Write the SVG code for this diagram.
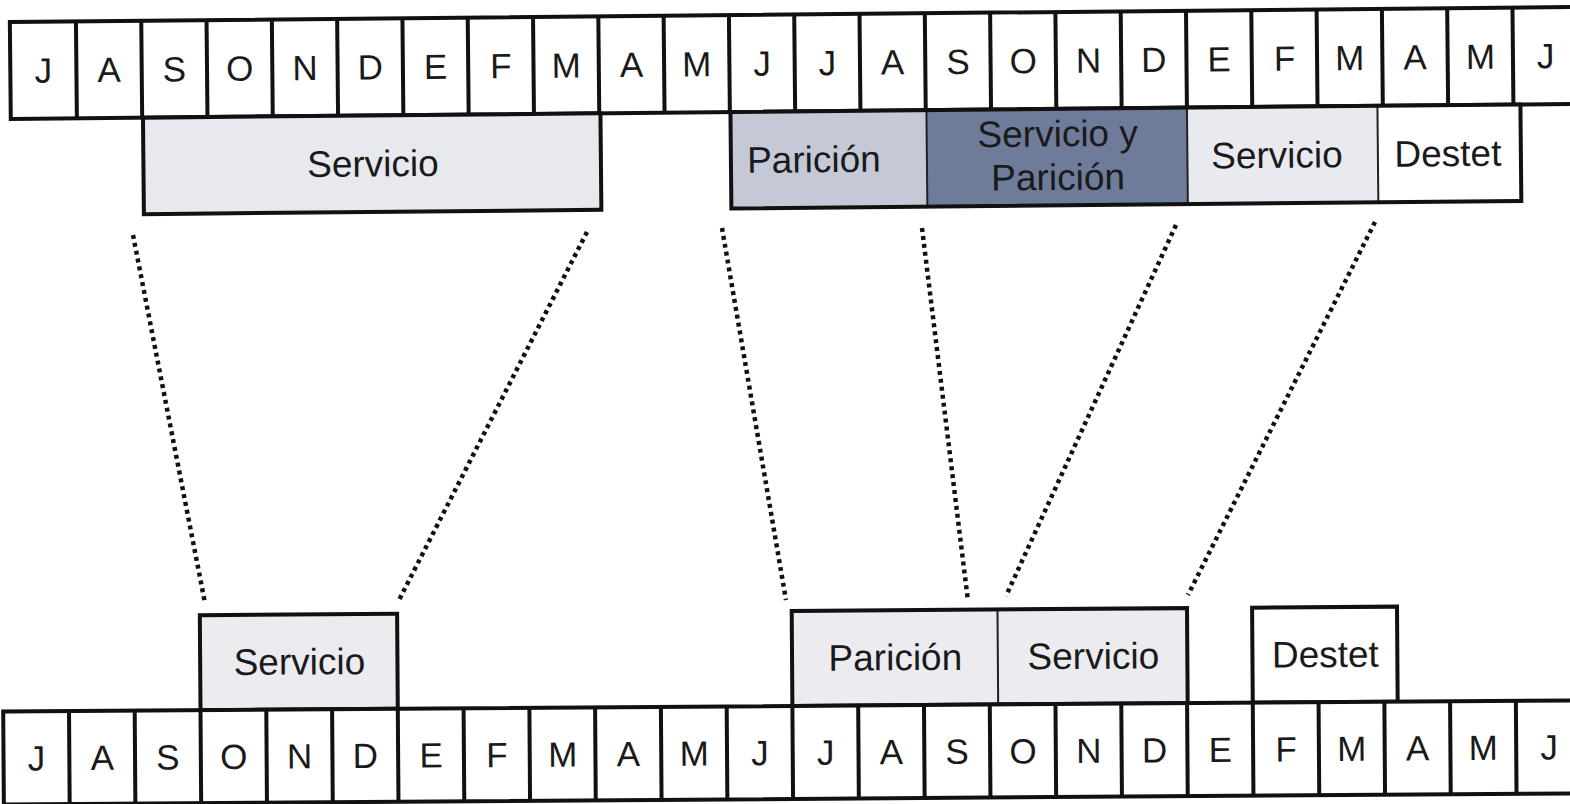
<svg xmlns="http://www.w3.org/2000/svg" width="1570" height="804" viewBox="0 0 1570 804">
<style>
.m{font-family:"Liberation Sans",Arial,sans-serif;font-size:35px;fill:#1a1a1a;text-anchor:middle}
.l{font-family:"Liberation Sans",Arial,sans-serif;font-size:37px;fill:#1a1a1a;text-anchor:middle}
.o{stroke:#111;stroke-width:4}
.t{fill:none;stroke:#222;stroke-width:2}
.dot{fill:none;stroke:#111;stroke-width:4.5;stroke-dasharray:4 4}
</style>
<rect width="1570" height="804" fill="#fff"/>
<g id="top" transform="rotate(-0.55 785 65)">
  <g id="top-months">
    <rect x="10.3" y="14.6" width="1580" height="96.9" fill="#fff" class="o"/>
    <path class="o" fill="none" d="M76.4 14.6V111.5M141.7 14.6V111.5M207 14.6V111.5M272.3 14.6V111.5M337.6 14.6V111.5M402.9 14.6V111.5M468.2 14.6V111.5M533.5 14.6V111.5M598.8 14.6V111.5M664.1 14.6V111.5M729.4 14.6V111.5M794.7 14.6V111.5M860 14.6V111.5M925.3 14.6V111.5M990.6 14.6V111.5M1055.9 14.6V111.5M1121.2 14.6V111.5M1186.5 14.6V111.5M1251.8 14.6V111.5M1317.1 14.6V111.5M1382.4 14.6V111.5M1447.7 14.6V111.5M1513 14.6V111.5"/>
    <text class="m" x="43.4" y="75.5">J</text>
    <text class="m" x="109.1" y="75.5">A</text>
    <text class="m" x="174.4" y="75.5">S</text>
    <text class="m" x="239.7" y="75.5">O</text>
    <text class="m" x="305" y="75.5">N</text>
    <text class="m" x="370.3" y="75.5">D</text>
    <text class="m" x="435.6" y="75.5">E</text>
    <text class="m" x="500.9" y="75.5">F</text>
    <text class="m" x="566.2" y="75.5">M</text>
    <text class="m" x="631.5" y="75.5">A</text>
    <text class="m" x="696.8" y="75.5">M</text>
    <text class="m" x="762.1" y="75.5">J</text>
    <text class="m" x="827.4" y="75.5">J</text>
    <text class="m" x="892.7" y="75.5">A</text>
    <text class="m" x="958" y="75.5">S</text>
    <text class="m" x="1023.3" y="75.5">O</text>
    <text class="m" x="1088.6" y="75.5">N</text>
    <text class="m" x="1153.9" y="75.5">D</text>
    <text class="m" x="1219.2" y="75.5">E</text>
    <text class="m" x="1284.5" y="75.5">F</text>
    <text class="m" x="1349.8" y="75.5">M</text>
    <text class="m" x="1415.1" y="75.5">A</text>
    <text class="m" x="1480.4" y="75.5">M</text>
    <text class="m" x="1545.7" y="75.5">J</text>
  </g>
  <g id="top-servicio-1">
    <rect x="142.5" y="111.5" width="457.5" height="96.5" fill="#e8e9ef" class="o"/>
    <text class="l" x="372" y="172.5">Servicio</text>
  </g>
  <g id="top-paricion">
    <rect x="730" y="111.5" width="196" height="96.5" fill="#c5c9d7"/>
    <text class="l" x="813" y="172.5">Parición</text>
  </g>
  <g id="top-servicio-y-paricion">
    <rect x="926" y="111.5" width="260.5" height="96.5" fill="#6e7c9a"/>
    <text class="l" x="1057" y="149">Servicio y</text>
    <text class="l" x="1057" y="192.5">Parición</text>
  </g>
  <g id="top-servicio-2">
    <rect x="1186.5" y="111.5" width="190.5" height="96.5" fill="#e9eaf0"/>
    <text class="l" x="1276" y="172.5">Servicio</text>
  </g>
  <g id="top-destet">
    <rect x="1377" y="111.5" width="143" height="96.5" fill="#fff"/>
    <text class="l" x="1447" y="172.5">Destet</text>
  </g>
  <path class="t" d="M926 111.5V208M1186.5 111.5V208M1377 111.5V208"/>
  <rect x="730" y="111.5" width="790" height="96.5" fill="none" class="o"/>
</g>
<g id="connectors">
  <path class="dot" d="M133 235L205 603"/>
  <path class="dot" d="M587 232L398 602"/>
  <path class="dot" d="M722 228L786 600"/>
  <path class="dot" d="M922 228L968 601"/>
  <path class="dot" d="M1176 225L1006 596"/>
  <path class="dot" d="M1375 222L1188 595"/>
</g>
<g id="bottom" transform="rotate(-0.41 785 750)">
  <g id="bottom-servicio">
    <rect x="200.8" y="611" width="197.3" height="95" fill="#ebebf0" class="o"/>
    <text class="l" x="300" y="671">Servicio</text>
  </g>
  <g id="bottom-paricion">
    <rect x="792.7" y="611" width="205.8" height="95" fill="#ebebf0"/>
    <text class="l" x="896" y="671">Parición</text>
  </g>
  <g id="bottom-servicio-2">
    <rect x="998.5" y="611" width="189.5" height="95" fill="#ebebf0"/>
    <text class="l" x="1094" y="671">Servicio</text>
  </g>
  <path class="t" d="M998.5 611V706"/>
  <rect x="792.7" y="611" width="395.3" height="95" fill="none" class="o"/>
  <g id="bottom-destet">
    <rect x="1253.1" y="611" width="144.9" height="95" fill="#fff" class="o"/>
    <text class="l" x="1326" y="671">Destet</text>
  </g>
  <g id="bottom-months">
    <rect x="3.5" y="706" width="1585" height="93" fill="#fff" class="o"/>
    <path class="o" fill="none" d="M69.3 706V799M135 706V799M200.8 706V799M266.6 706V799M332.4 706V799M398.1 706V799M463.9 706V799M529.7 706V799M595.4 706V799M661.2 706V799M727 706V799M792.7 706V799M858.5 706V799M924.3 706V799M990.1 706V799M1055.8 706V799M1121.6 706V799M1187.4 706V799M1253.1 706V799M1318.9 706V799M1384.7 706V799M1450.4 706V799M1516.2 706V799"/>
    <text class="m" x="36.4" y="765">J</text>
    <text class="m" x="102.2" y="765">A</text>
    <text class="m" x="167.9" y="765">S</text>
    <text class="m" x="233.7" y="765">O</text>
    <text class="m" x="299.5" y="765">N</text>
    <text class="m" x="365.3" y="765">D</text>
    <text class="m" x="431" y="765">E</text>
    <text class="m" x="496.8" y="765">F</text>
    <text class="m" x="562.6" y="765">M</text>
    <text class="m" x="628.3" y="765">A</text>
    <text class="m" x="694.1" y="765">M</text>
    <text class="m" x="759.9" y="765">J</text>
    <text class="m" x="825.6" y="765">J</text>
    <text class="m" x="891.4" y="765">A</text>
    <text class="m" x="957.2" y="765">S</text>
    <text class="m" x="1023" y="765">O</text>
    <text class="m" x="1088.7" y="765">N</text>
    <text class="m" x="1154.5" y="765">D</text>
    <text class="m" x="1220.3" y="765">E</text>
    <text class="m" x="1286" y="765">F</text>
    <text class="m" x="1351.8" y="765">M</text>
    <text class="m" x="1417.6" y="765">A</text>
    <text class="m" x="1483.3" y="765">M</text>
    <text class="m" x="1549.1" y="765">J</text>
  </g>
</g>
</svg>
